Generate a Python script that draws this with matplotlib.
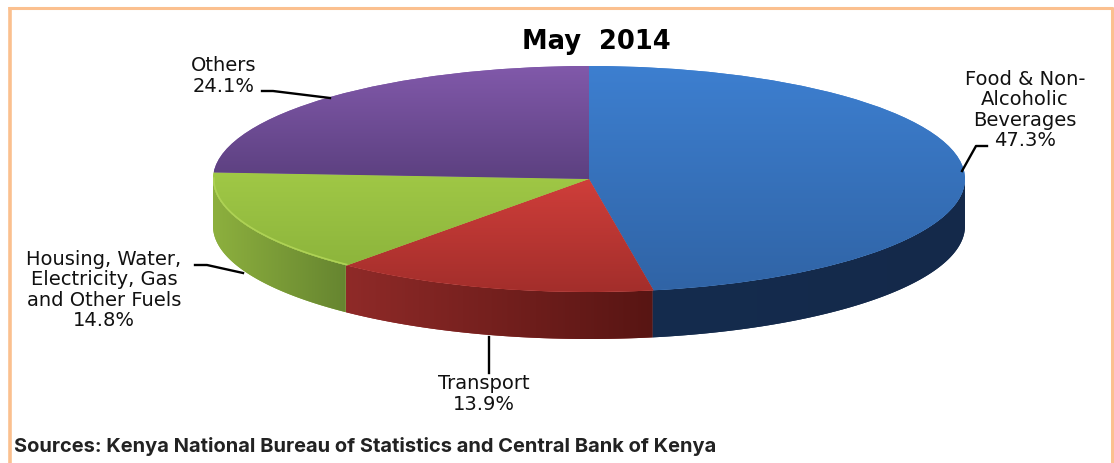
import numpy as np
import matplotlib
matplotlib.use("Agg")
import matplotlib.pyplot as plt
from matplotlib.colors import LinearSegmentedColormap
from matplotlib.patches import Polygon

# DATA
categories = ["Food & Non-\nAlcoholic\nBeverages", "Transport",
              "Housing, Water,\nElectricity, Gas\nand Other Fuels", "Others"]
shares = [47.3, 13.9, 14.8, 24.1]
title = "May  2014"
source = "Sources: Kenya National Bureau of Statistics and Central Bank of Kenya"

# STYLE
W, H = 1114, 463
cx, cy = 589, 179      # pie centre in pixels
rx, ry = 376, 113      # pie radii in pixels
depth = 47
top_cols = [("#3d7fd0", "#3064a6"), ("#cf3e3a", "#a32e2b"),
            ("#a0c846", "#8db53c"), ("#8159aa", "#5c4080")]
side_cols = [("#152c4e", "#14294a"), ("#8f2a28", "#581513"),
             ("#8db03e", "#668530"), ("#000000", "#000000")]
rim_col = "#aed255"
label_xy = [(1025, 110), (484, 394), (104, 290), (224, 76)]
leaders = [[(962, 171), (976, 146), (987, 146)],
           [(489, 337), (489, 373)],
           [(195, 265), (207, 265), (243, 273)],
           [(262, 91), (273, 91), (330, 98)]]
frame_col = "#fbc08f"

plt.rcParams["font.family"] = "DejaVu Sans"

fig = plt.figure(figsize=(W / 100, H / 100), dpi=100)
ax = fig.add_axes([0, 0, 1, 1])
wedges, _ = ax.pie(shares, startangle=90, counterclock=False, radius=1,
                   colors=[c[0] for c in top_cols], wedgeprops={"linewidth": 0})
xlim = (-cx / rx, (W - cx) / rx)
ylim = ((cy - H) / ry, cy / ry)
d = depth / ry

# side walls, only the part of each slice facing the viewer
ends = 90 - np.cumsum([0] + shares) * 3.6
for i in range(len(shares)):
    if ends[i + 1] >= 0 or ends[i] <= -180:
        continue
    a0 = min(ends[i], 0)
    a1 = max(ends[i + 1], -180)
    t = np.radians(np.linspace(a0, a1, 80))
    xs, ys = np.cos(t), np.sin(t)
    pts = np.r_[np.c_[xs, ys], np.c_[xs, ys - d][::-1]]
    poly = Polygon(pts, closed=True, facecolor=side_cols[i][0], lw=0, zorder=1)
    ax.add_patch(poly)
    cmap = LinearSegmentedColormap.from_list("s", side_cols[i])
    grad = np.linspace(0, 1, 256).reshape(1, -1)
    im = ax.imshow(grad, cmap=cmap, aspect="auto", zorder=1.5,
                   extent=[xs.min(), xs.max(), ylim[0], ylim[1]])
    im.set_clip_path(poly)

# top faces with a vertical gradient over each slice's own height
for w, cols in zip(wedges, top_cols):
    w.set_zorder(2)
    box = w.get_path().get_extents(w.get_patch_transform())
    cmap = LinearSegmentedColormap.from_list("t", cols)
    grad = np.linspace(0, 1, 256).reshape(-1, 1)
    im = ax.imshow(grad, cmap=cmap, aspect="auto", zorder=3,
                   extent=[box.x0, box.x1, box.y0, box.y1])
    im.set_clip_path(w)

# lighter rim along the front edge of the housing slice
t = np.radians(np.linspace(ends[2], max(ends[3], -180), 60))
rim, = ax.plot(np.cos(t), np.sin(t), color=rim_col, lw=2.4, zorder=4)
rim.set_clip_path(wedges[2])

ax.set_aspect("auto")
ax.set_xlim(xlim)
ax.set_ylim(ylim)
ax.axis("off")

# overlay in pixel coordinates for frame, leaders and labels
ov = fig.add_axes([0, 0, 1, 1], facecolor="none")
ov.set_xlim(0, W)
ov.set_ylim(H, 0)
ov.axis("off")
ov.plot([9.5, 9.5], [H, 7], color=frame_col, lw=2.6, solid_capstyle="butt")
ov.plot([8, 1113], [7.5, 7.5], color=frame_col, lw=2.2, solid_capstyle="butt")
ov.plot([1112, 1112], [7, H], color=frame_col, lw=2.2, solid_capstyle="butt")

for line, (x, y), cat, val in zip(leaders, label_xy, categories, shares):
    ov.plot([p[0] for p in line], [p[1] for p in line], color="black", lw=1.7)
    ov.text(x, y, "{}\n{:.1f}%".format(cat, val), ha="center", va="center",
            fontsize=14, linespacing=1.11, color="#111111")

ov.text(596, 42, title, ha="center", va="center", fontsize=18.5, fontweight="bold")
ov.text(14, 446, source, ha="left", va="center", fontsize=14.45, fontweight="bold",
        color="#222222", family="Inter")

fig.savefig("out.png", dpi=100)
